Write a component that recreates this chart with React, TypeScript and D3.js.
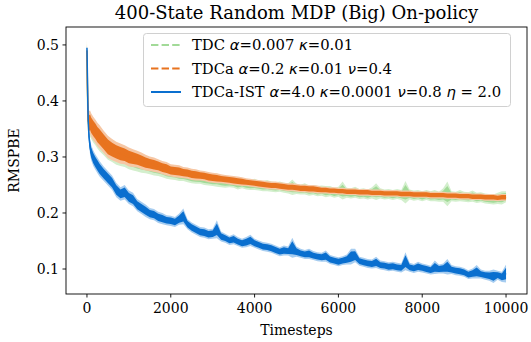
import React from "react";
import * as d3 from "d3";

const W = 531;
const H = 342;

const title = "400-State Random MDP (Big) On-policy";
const xLabel = "Timesteps";
const yLabel = "RMSPBE";
const xTicks = [0, 2000, 4000, 6000, 8000, 10000];
const yTicks = [0.1, 0.2, 0.3, 0.4, 0.5];

const earlySteps = [0, 10, 20, 30, 50, 75, 100, 150, 200, 250, 300];
const steps = earlySteps.concat(d3.range(400, 10001, 100));

const tdcMean = [
  0.49, 0.43, 0.38, 0.36, 0.356, 0.358, 0.354, 0.348, 0.343, 0.337, 0.332,
  0.324, 0.316, 0.311, 0.306, 0.303, 0.300, 0.296, 0.293, 0.290, 0.288,
  0.286, 0.283, 0.281, 0.279, 0.277, 0.274, 0.272, 0.271, 0.269, 0.268,
  0.266, 0.264, 0.263, 0.262, 0.260, 0.259, 0.258, 0.259, 0.256, 0.255,
  0.255, 0.254, 0.252, 0.253, 0.251, 0.250, 0.251, 0.249, 0.248, 0.249,
  0.247, 0.246, 0.247, 0.245, 0.244, 0.246, 0.243, 0.242, 0.243, 0.240,
  0.241, 0.239, 0.240, 0.238, 0.239, 0.236, 0.238, 0.240, 0.236, 0.235,
  0.237, 0.234, 0.235, 0.233, 0.236, 0.238, 0.235, 0.233, 0.234, 0.232,
  0.234, 0.232, 0.237, 0.233, 0.231, 0.232, 0.230, 0.232, 0.230, 0.231,
  0.229, 0.232, 0.234, 0.230, 0.229, 0.231, 0.229, 0.228, 0.230, 0.227,
  0.228, 0.226, 0.225, 0.224, 0.226, 0.227, 0.229,
];
const tdcSpread = [
  0.02, 0.03, 0.03, 0.025, 0.022, 0.022, 0.022, 0.022, 0.022, 0.022, 0.022,
  0.021, 0.021, 0.020, 0.020, 0.019, 0.018, 0.018,
  0.017, 0.016, 0.016, 0.015, 0.014, 0.014, 0.013, 0.013, 0.013, 0.012,
  0.012, 0.012, 0.011, 0.011, 0.011, 0.011, 0.010, 0.010, 0.010, 0.010,
  0.012, 0.010, 0.010, 0.009, 0.009, 0.010, 0.009, 0.009, 0.009, 0.010,
  0.009, 0.009, 0.010, 0.009, 0.009, 0.009, 0.009, 0.009, 0.014, 0.009,
  0.009, 0.010, 0.009, 0.009, 0.009, 0.009, 0.010, 0.009, 0.009, 0.009,
  0.016, 0.009, 0.009, 0.010, 0.009, 0.009, 0.009, 0.010, 0.015, 0.009,
  0.009, 0.009, 0.009, 0.009, 0.009, 0.020, 0.009, 0.009, 0.009, 0.009,
  0.009, 0.009, 0.010, 0.009, 0.012, 0.022, 0.009, 0.009, 0.010, 0.009,
  0.009, 0.010, 0.009, 0.009, 0.009, 0.009, 0.009, 0.010, 0.012, 0.010,
];

const tdcaMean = [
  0.49, 0.43, 0.40, 0.365, 0.36, 0.362, 0.357, 0.351, 0.346, 0.340, 0.336,
  0.327, 0.318, 0.313, 0.309, 0.306, 0.304, 0.300, 0.298, 0.296, 0.293,
  0.290, 0.288, 0.286, 0.284, 0.281, 0.279, 0.276, 0.275, 0.274, 0.272,
  0.271, 0.269, 0.268, 0.267, 0.266, 0.264, 0.263, 0.262, 0.261, 0.260,
  0.259, 0.258, 0.257, 0.256, 0.255, 0.254, 0.253, 0.252, 0.251, 0.250,
  0.249, 0.249, 0.248, 0.247, 0.246, 0.246, 0.245, 0.244, 0.244, 0.243,
  0.243, 0.242, 0.241, 0.241, 0.240, 0.240, 0.239, 0.239, 0.238, 0.238,
  0.238, 0.237, 0.237, 0.237, 0.236, 0.236, 0.236, 0.235, 0.235, 0.235,
  0.235, 0.234, 0.234, 0.234, 0.233, 0.233, 0.233, 0.233, 0.232, 0.232,
  0.232, 0.232, 0.231, 0.231, 0.231, 0.230, 0.230, 0.230, 0.229, 0.229,
  0.229, 0.228, 0.228, 0.228, 0.227, 0.228, 0.228,
];
const tdcaSpread = [
  0.02, 0.03, 0.045, 0.03, 0.022, 0.021, 0.021, 0.021, 0.021, 0.021, 0.021,
  0.020, 0.020, 0.019, 0.018, 0.018, 0.017, 0.017,
  0.016, 0.015, 0.015, 0.014, 0.013, 0.013, 0.012, 0.012, 0.012, 0.011,
  0.011, 0.011, 0.010, 0.010, 0.010, 0.010, 0.009, 0.009, 0.009, 0.009,
  0.009, 0.008, 0.008, 0.008, 0.008, 0.008, 0.008, 0.007, 0.007, 0.007,
  0.007, 0.007, 0.007, 0.007, 0.007, 0.007, 0.007, 0.007, 0.007, 0.007,
  0.007, 0.007, 0.007, 0.007, 0.007, 0.006, 0.006, 0.006, 0.006, 0.006,
  0.006, 0.006, 0.006, 0.006, 0.006, 0.006, 0.006, 0.006, 0.006, 0.006,
  0.006, 0.006, 0.006, 0.006, 0.006, 0.006, 0.006, 0.006, 0.006, 0.006,
  0.006, 0.006, 0.006, 0.006, 0.006, 0.006, 0.006, 0.006, 0.006, 0.006,
  0.006, 0.006, 0.006, 0.006, 0.006, 0.006, 0.006, 0.006, 0.006, 0.006,
];

const istMean = [
  0.495, 0.45, 0.40, 0.365, 0.335, 0.318, 0.308, 0.298, 0.291, 0.285, 0.279,
  0.270, 0.262, 0.254, 0.241, 0.234, 0.237, 0.228, 0.224, 0.214, 0.209,
  0.204, 0.199, 0.197, 0.192, 0.190, 0.187, 0.186, 0.184, 0.189, 0.194,
  0.180, 0.174, 0.170, 0.166, 0.165, 0.162, 0.163, 0.171, 0.158, 0.155,
  0.151, 0.153, 0.149, 0.146, 0.148, 0.151, 0.146, 0.143, 0.140, 0.139,
  0.137, 0.134, 0.131, 0.133, 0.132, 0.138, 0.131, 0.128, 0.126, 0.127,
  0.124, 0.122, 0.121, 0.123, 0.117, 0.115, 0.113, 0.115, 0.117, 0.122,
  0.124, 0.114, 0.112, 0.110, 0.109, 0.112, 0.107, 0.106, 0.104, 0.105,
  0.103, 0.102, 0.114, 0.103, 0.101, 0.104, 0.102, 0.100, 0.098, 0.103,
  0.100, 0.101, 0.104, 0.099, 0.097, 0.096, 0.094, 0.090, 0.092, 0.095,
  0.091, 0.089, 0.088, 0.087, 0.089, 0.086, 0.092,
];
const istSpread = [
  0.004, 0.02, 0.02, 0.016, 0.014, 0.014, 0.014, 0.014, 0.014, 0.014, 0.014,
  0.013, 0.013, 0.013, 0.013, 0.012, 0.013, 0.012,
  0.012, 0.011, 0.011, 0.011, 0.010, 0.010, 0.010, 0.010, 0.009, 0.009,
  0.009, 0.010, 0.014, 0.009, 0.009, 0.009, 0.009, 0.009, 0.009, 0.009,
  0.016, 0.009, 0.008, 0.008, 0.009, 0.008, 0.008, 0.009, 0.010, 0.008,
  0.008, 0.008, 0.008, 0.008, 0.008, 0.008, 0.009, 0.008, 0.018, 0.009,
  0.008, 0.008, 0.009, 0.008, 0.008, 0.008, 0.010, 0.008, 0.008, 0.008,
  0.008, 0.009, 0.014, 0.012, 0.008, 0.008, 0.008, 0.008, 0.010, 0.008,
  0.008, 0.008, 0.008, 0.008, 0.008, 0.016, 0.008, 0.008, 0.009, 0.008,
  0.008, 0.008, 0.012, 0.008, 0.009, 0.014, 0.008, 0.008, 0.008, 0.008,
  0.008, 0.009, 0.012, 0.008, 0.008, 0.009, 0.012, 0.008, 0.009, 0.016,
];

const series = [
  { name: "TDC", mean: tdcMean, spread: tdcSpread, color: "#a2da98", band: "#d3efcd", dash: "7.4,3.2",
    label: [["TDC ", false], ["α", true], ["=0.007 ", false], ["κ", true], ["=0.01", false]] },
  { name: "TDCa", mean: tdcaMean, spread: tdcaSpread, color: "#e8731f", band: "#f6c7a5", dash: "7.4,3.2",
    label: [["TDCa ", false], ["α", true], ["=0.2 ", false], ["κ", true], ["=0.01 ", false], ["ν", true], ["=0.4", false]] },
  { name: "TDCa-IST", mean: istMean, spread: istSpread, color: "#0a6fcf", band: "#a7cdf0", dash: null,
    label: [["TDCa-IST ", false], ["α", true], ["=4.0 ", false], ["κ", true], ["=0.0001 ", false], ["ν", true], ["=0.8 ", false], ["η", true], [" = 2.0", false]] },
];

const L = 66, R = 527, T = 27, B = 294;
const FONT = "'DejaVu Serif', serif";

export default function App() {
  const x = d3.scaleLinear().domain([-500, 10500]).range([L, R]);
  const y = d3.scaleLinear().domain([0.0554, 0.532]).range([B, T]);

  const area = (s: any, k: number) =>
    d3.area<number>()
      .x((_, i) => x(steps[i]))
      .y0((_, i) => y(s.mean[i] - k * s.spread[i]))
      .y1((_, i) => y(s.mean[i] + k * s.spread[i]))(s.mean) as string;
  const line = (s: any) =>
    d3.line<number>().x((_, i) => x(steps[i])).y((v) => y(v))(s.mean) as string;

  const legY = [45, 68.5, 92];

  return (
    <svg width={W} height={H} style={{ position: "fixed", left: 0, top: 0, background: "#fff" }} fontFamily={FONT}>
      <rect x={0} y={0} width={W} height={H} fill="#fff" />
      <defs>
        <clipPath id="plot"><rect x={L} y={T} width={R - L} height={B - T} /></clipPath>
      </defs>
      <g clipPath="url(#plot)">
        {series.map((s) => (
          <g key={s.name}>
            <path d={area(s, 1)} fill={s.band} stroke="none" />
            <path d={area(s, 0.65)} fill={s.color} stroke="none" />
            <path d={line(s)} fill="none" stroke={s.color} strokeWidth={1.5} strokeLinejoin="round" />
          </g>
        ))}
      </g>
      <rect x={L} y={T} width={R - L} height={B - T} fill="none" stroke="#000" strokeWidth={0.9} />
      {xTicks.map((t) => (
        <g key={t}>
          <line x1={x(t)} x2={x(t)} y1={B} y2={B + 3.5} stroke="#000" strokeWidth={0.9} />
          <text x={x(t)} y={B + 19} fontSize={14} textAnchor="middle" fill="#000">{t}</text>
        </g>
      ))}
      {yTicks.map((t) => (
        <g key={t}>
          <line x1={L - 3.5} x2={L} y1={y(t)} y2={y(t)} stroke="#000" strokeWidth={0.9} />
          <text x={L - 7} y={y(t) + 5} fontSize={14} textAnchor="end" fill="#000">{t.toFixed(1)}</text>
        </g>
      ))}
      <text x={(L + R) / 2} y={335} fontSize={14} textAnchor="middle">{xLabel}</text>
      <text transform={`translate(19,${(T + B) / 2}) rotate(-90)`} fontSize={14} textAnchor="middle">{yLabel}</text>
      <text x={(L + R) / 2} y={19} fontSize={18} textAnchor="middle">{title}</text>
      <rect x={143.5} y={33.5} width={367} height={73} rx={3} fill="#fff" fillOpacity={0.8} stroke="#d0d0d0" strokeWidth={1} />
      {series.map((s, i) => (
        <g key={s.name}>
          <line x1={151} x2={181} y1={legY[i]} y2={legY[i]} stroke={s.color} strokeWidth={2} strokeDasharray={s.dash || undefined} />
          <text x={192} y={legY[i] + 5} fontSize={14.8}>
            {s.label.map(([txt, it], j) => (
              <tspan key={j} fontStyle={it ? "italic" : "normal"} fontFamily={it ? "'DejaVu Sans', sans-serif" : FONT} xmlSpace="preserve">{txt}</tspan>
            ))}
          </text>
        </g>
      ))}
    </svg>
  );
}
